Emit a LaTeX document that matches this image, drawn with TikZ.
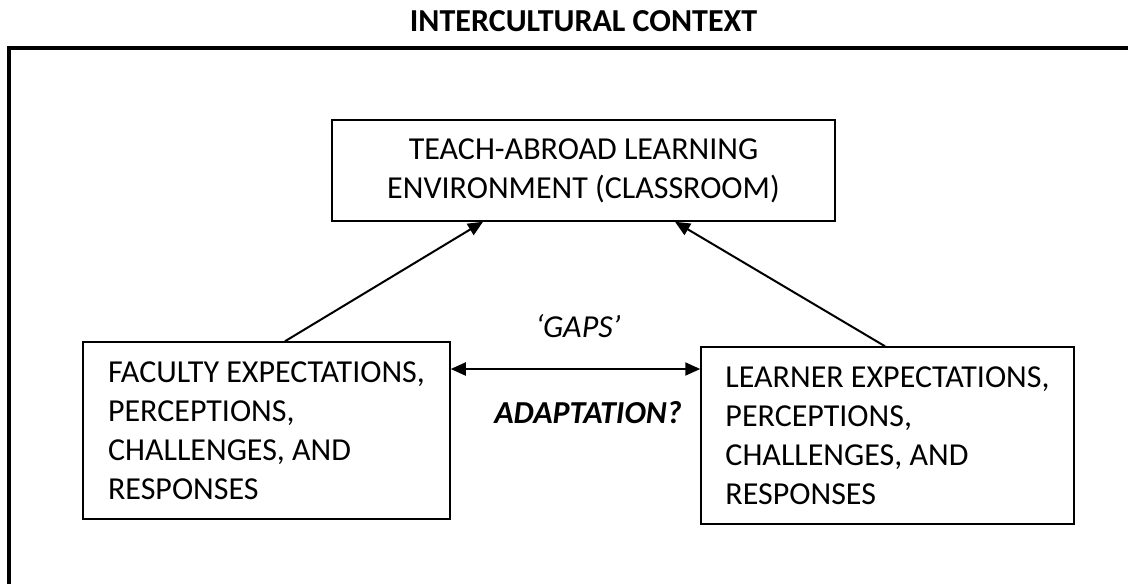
\documentclass[tikz,border=0pt]{standalone}
\usepackage{fontspec}
\setmainfont{Carlito}
\usetikzlibrary{arrows.meta}

\begin{document}
\begin{tikzpicture}[x=1pt,y=-1pt,
  every node/.style={font=\fontsize{32}{39}\selectfont},
  box/.style={draw,line width=1.5pt,align=left,minimum height=177pt,inner sep=0pt},
  link/.style={line width=2pt,-{Triangle[length=15pt,width=13pt]}}]
\useasboundingbox (0,0) rectangle (1128,584);
% context frame, open to the right and below
\draw[line width=4pt] (1128,48) -- (9,48) -- (9,584);
\node[font=\fontsize{32}{39}\selectfont\bfseries] (ctx) at (583.5,21) {INTERCULTURAL CONTEXT};
% the three boxes
\node[box,align=center,minimum width=503pt,minimum height=101pt] (env) at (583.5,170.5) {TEACH-ABROAD LEARNING\\ENVIRONMENT (CLASSROOM)};
\node[box,minimum width=367pt] (faculty) at (266.5,430.5) {FACULTY EXPECTATIONS,\\PERCEPTIONS,\\CHALLENGES, AND\\RESPONSES};
\node[box,minimum width=373pt] (learner) at (887.5,435.5) {LEARNER EXPECTATIONS,\\PERCEPTIONS,\\CHALLENGES, AND\\RESPONSES};
% arrows up to the classroom, and the gap between both sides
\draw[link] ([xshift=18.5pt]faculty.north) -- ([xshift=-100.5pt]env.south);
\draw[link] ([xshift=-2.5pt]learner.north) -- ([xshift=91.5pt]env.south);
\coordinate (gapline) at (575,369);
\draw[link,{Triangle[length=15pt,width=13pt]}-{Triangle[length=15pt,width=13pt]}] (faculty.east |- gapline) -- (learner.west |- gapline);
\node[font=\fontsize{32}{39}\selectfont\itshape] (gaps) at (578,326) {`GAPS'};
\node[font=\fontsize{32}{39}\selectfont\bfseries\itshape] (adapt) at (588,413) {ADAPTATION?};
\end{tikzpicture}
\end{document}
